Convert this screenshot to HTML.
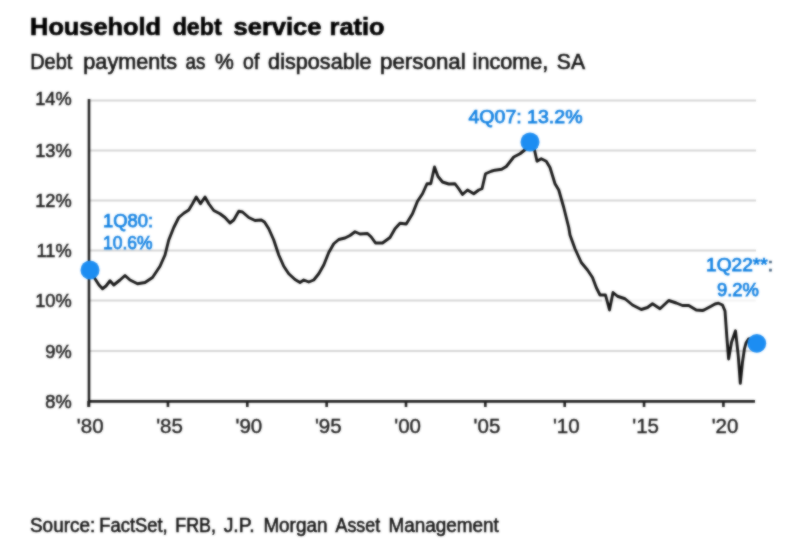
<!DOCTYPE html>
<html><head><meta charset="utf-8"><title>Household debt service ratio</title>
<style>
html,body{margin:0;padding:0;background:#fff;}
svg{display:block;font-family:"Liberation Sans",Arial,sans-serif;}
</style></head><body>
<svg width="800" height="553" viewBox="0 0 800 553">
<defs><filter id="soft" x="0" y="0" width="800" height="553" filterUnits="userSpaceOnUse" color-interpolation-filters="sRGB"><feGaussianBlur in="SourceGraphic" stdDeviation="0.8" result="b"/><feComposite in="SourceGraphic" in2="b" operator="arithmetic" k1="0" k2="0.35" k3="0.65" k4="0"/></filter></defs>
<rect width="800" height="553" fill="#fff"/>
<g filter="url(#soft)">
<text y="35" font-size="24.8" font-weight="bold" fill="#000" stroke="#000" stroke-width="0.7"><tspan x="30.08" textLength="131.00" lengthAdjust="spacingAndGlyphs">Household</tspan> <tspan x="172.66" textLength="48.98" lengthAdjust="spacingAndGlyphs">debt</tspan> <tspan x="233.60" textLength="87.86" lengthAdjust="spacingAndGlyphs">service</tspan> <tspan x="329.58" textLength="54.97" lengthAdjust="spacingAndGlyphs">ratio</tspan></text>
<text y="68.5" font-size="21.4" fill="#111" stroke="#111" stroke-width="0.6"><tspan x="30.17" textLength="42.18" lengthAdjust="spacingAndGlyphs">Debt</tspan> <tspan x="83.34" textLength="93.76" lengthAdjust="spacingAndGlyphs">payments</tspan> <tspan x="185.60" textLength="19.91" lengthAdjust="spacingAndGlyphs">as</tspan> <tspan x="215.10" textLength="18.82" lengthAdjust="spacingAndGlyphs">%</tspan> <tspan x="243.10" textLength="16.25" lengthAdjust="spacingAndGlyphs">of</tspan> <tspan x="268.10" textLength="103.46" lengthAdjust="spacingAndGlyphs">disposable</tspan> <tspan x="380.06" textLength="85.63" lengthAdjust="spacingAndGlyphs">personal</tspan> <tspan x="472.59" textLength="75.77" lengthAdjust="spacingAndGlyphs">income,</tspan> <tspan x="556.85" textLength="28.08" lengthAdjust="spacingAndGlyphs">SA</tspan></text>
<g stroke="#d6d6d6" stroke-width="2"><line x1="90" x2="756" y1="100.5" y2="100.5"/><line x1="90" x2="756" y1="150.5" y2="150.5"/><line x1="90" x2="756" y1="200.5" y2="200.5"/><line x1="90" x2="756" y1="250.5" y2="250.5"/><line x1="90" x2="756" y1="300.5" y2="300.5"/><line x1="90" x2="756" y1="351" y2="351"/></g>
<rect x="602" y="296" width="156" height="9" fill="#fff" opacity="0.7"/>
<g font-size="19" fill="#1c1c1c" stroke="#1c1c1c" stroke-width="0.55"><text transform="translate(71.7,105.3) scale(0.96,1)" text-anchor="end">14%</text><text transform="translate(71.7,157) scale(0.96,1)" text-anchor="end">13%</text><text transform="translate(71.7,207) scale(0.96,1)" text-anchor="end">12%</text><text transform="translate(71.7,257) scale(0.96,1)" text-anchor="end">11%</text><text transform="translate(71.7,307) scale(0.96,1)" text-anchor="end">10%</text><text transform="translate(71.7,357.5) scale(0.96,1)" text-anchor="end">9%</text><text transform="translate(71.7,407.5) scale(0.96,1)" text-anchor="end">8%</text></g>
<g font-size="20.5" fill="#1c1c1c" stroke="#1c1c1c" stroke-width="0.4"><text x="90.2" y="433.3" text-anchor="middle">'80</text><text x="169.55" y="433.3" text-anchor="middle">'85</text><text x="248.9" y="433.3" text-anchor="middle">'90</text><text x="328.25" y="433.3" text-anchor="middle">'95</text><text x="407.6" y="433.3" text-anchor="middle">'00</text><text x="486.95" y="433.3" text-anchor="middle">'05</text><text x="566.3" y="433.3" text-anchor="middle">'10</text><text x="645.65" y="433.3" text-anchor="middle">'15</text><text x="725" y="433.3" text-anchor="middle">'20</text></g>
<g stroke="#1e1e1e" stroke-width="2.6">
<line x1="89" x2="89" y1="99" y2="407"/>
<line x1="88" x2="755" y1="401.4" y2="401.4"/>
<line x1="88.6" x2="88.6" y1="401" y2="407"/><line x1="167.95" x2="167.95" y1="401" y2="407"/><line x1="247.3" x2="247.3" y1="401" y2="407"/><line x1="326.65" x2="326.65" y1="401" y2="407"/><line x1="406" x2="406" y1="401" y2="407"/><line x1="485.35" x2="485.35" y1="401" y2="407"/><line x1="564.7" x2="564.7" y1="401" y2="407"/><line x1="644.05" x2="644.05" y1="401" y2="407"/><line x1="723.4" x2="723.4" y1="401" y2="407"/>
</g>
<path d="M90 270 L95 278.75 L99 285 L102.5 288.75 L106 286 L110 280.75 L113.75 285 L120 280 L125 275.5 L130 280 L137.5 283.75 L145 282.5 L152.5 277.5 L160 266.25 L165 255 L168.75 240 L173.75 227.5 L178.75 217.5 L183.75 213.25 L188.75 210 L192.5 203.75 L196.25 197 L200.5 203.75 L205 197 L208.75 203.75 L213.75 210.5 L220 213.75 L225 217.5 L230 223 L233.75 220 L238.75 211.25 L242.5 212 L248.75 217.5 L255 220.5 L261.25 220 L264.5 222 L268.75 228.75 L273.75 240 L278.75 255 L283.75 266.25 L288.75 273.75 L295 279.5 L300 282.5 L303.75 280 L308.75 282 L313.75 280 L318.75 273.75 L323.75 265 L328.75 252.5 L333.75 243.75 L338.75 239.5 L345 238 L350 235.5 L355 231.75 L360 234 L367.5 233.5 L371.25 237 L375.5 243 L382.5 243 L390 237.5 L395 228.75 L400 223.25 L406.25 224 L412.5 213.75 L417.5 201.25 L422.5 193.75 L427 183.75 L430.75 183.75 L434.5 167 L438 176.5 L442.5 182 L448.75 184 L455 183.75 L458.75 188.75 L462.5 194.5 L467.5 190 L473.75 193.75 L478.75 190 L482 188.75 L485.5 173.75 L491.25 171.25 L495 170.2 L501.7 169.3 L506.3 166.5 L513.75 157 L520 153.75 L526.25 148.75 L530 142 L534.5 150 L537 161.25 L541.25 158.75 L546.25 161.25 L550 167.5 L555 183.75 L558.75 190 L563.75 207.5 L568.75 227.5 L570 235 L575 248.75 L581.25 262.5 L587.5 270 L592.5 277.5 L596.25 287.5 L600 295 L605.5 295 L609.5 310 L613 292.5 L617.5 296.25 L625 298.75 L632.5 305 L641.25 309.5 L647.5 307.5 L652.5 303.75 L660 308.75 L668.75 300.5 L676.25 303 L682.5 305.5 L688.75 305.5 L696.25 310 L702.5 310.5 L704 310 L711 306.3 L715 304 L718.5 303.2 L722.5 305 L725 311 L726.9 337.7 L728.6 359 L731.6 342 L735.5 330.8 L738.2 355 L740.3 383.3 L742.5 362 L744.4 349 L746 343 L748.5 339 L752 338.5 L756 343" fill="none" stroke="#161616" stroke-width="2.9" stroke-linejoin="round" stroke-linecap="round"/>
<g fill="#1c8df2">
<circle cx="90" cy="270" r="9.5"/>
<circle cx="530" cy="142" r="9.5"/>
<circle cx="756.8" cy="343.3" r="9.4"/>
</g>
<g font-size="18.5" font-weight="normal" fill="#1080e2" stroke="#1080e2" stroke-width="0.75">
<text x="103" y="226.5" textLength="50" lengthAdjust="spacingAndGlyphs">1Q80:</text>
<text x="103" y="249" textLength="49.5" lengthAdjust="spacingAndGlyphs">10.6%</text>
<text x="468.5" y="123" textLength="114" lengthAdjust="spacingAndGlyphs">4Q07: 13.2%</text>
<text x="706" y="270.5" textLength="67" lengthAdjust="spacingAndGlyphs">1Q22**<tspan fill="#46637f" stroke="#46637f">:</tspan></text>
<text x="717" y="295.5" textLength="42" lengthAdjust="spacingAndGlyphs">9.2%</text>
</g>
<text y="532" font-size="19.5" fill="#111" stroke="#111" stroke-width="0.55"><tspan x="30.00" textLength="65.17" lengthAdjust="spacingAndGlyphs">Source:</tspan> <tspan x="99.36" textLength="68.27" lengthAdjust="spacingAndGlyphs">FactSet,</tspan> <tspan x="175.28" textLength="40.72" lengthAdjust="spacingAndGlyphs">FRB,</tspan> <tspan x="223.70" textLength="30.86" lengthAdjust="spacingAndGlyphs">J.P.</tspan> <tspan x="263.38" textLength="64.04" lengthAdjust="spacingAndGlyphs">Morgan</tspan> <tspan x="335.60" textLength="44.52" lengthAdjust="spacingAndGlyphs">Asset</tspan> <tspan x="388.38" textLength="110.46" lengthAdjust="spacingAndGlyphs">Management</tspan></text>
</g>
</svg>
</body></html>
